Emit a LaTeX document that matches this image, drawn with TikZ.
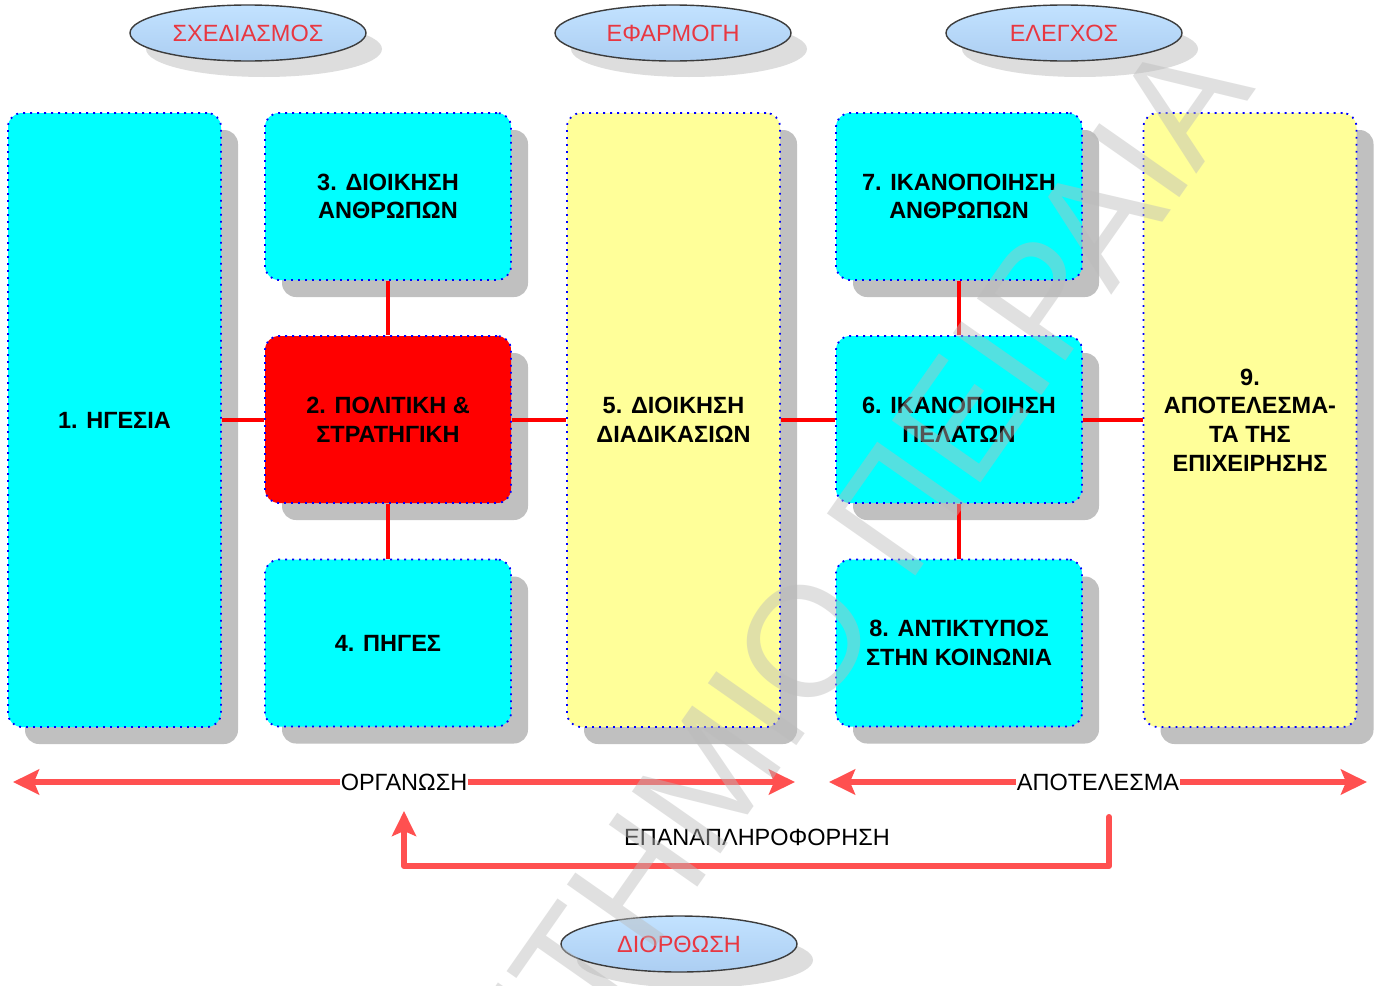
\documentclass[tikz,border=0pt]{standalone}
\usepackage{fontspec}
\setmainfont{Liberation Sans}
\usetikzlibrary{shapes.geometric,arrows.meta,shadows}
\definecolor{boxcyan}{RGB}{0,255,255}
\definecolor{boxyellow}{RGB}{255,255,153}
\definecolor{boxred}{RGB}{255,0,0}
\definecolor{dotblue}{RGB}{0,0,255}
\definecolor{shadowgray}{RGB}{192,192,192}
\definecolor{ovalshadow}{RGB}{221,221,221}
\definecolor{ovaltop}{RGB}{194,226,255}
\definecolor{ovalbottom}{RGB}{172,206,242}
\definecolor{ovalrim}{RGB}{60,60,60}
\definecolor{ovaltext}{RGB}{232,55,65}
\definecolor{linkred}{RGB}{255,0,0}
\definecolor{arrowred}{RGB}{255,80,80}
\definecolor{markgray}{RGB}{187,187,187}

\begin{document}
\begin{tikzpicture}[x=1pt,y=-1pt,
  stage/.style={rounded corners=14pt, draw=dotblue, line width=1.8pt,
    dash pattern=on 1.8pt off 5.2pt, align=center, inner sep=0pt,
    font=\fontsize{23.5}{28.7}\selectfont\bfseries,
    drop shadow={shadow xshift=17pt, shadow yshift=-17pt, fill=shadowgray, opacity=1}},
  tall/.style={stage, minimum width=213pt, minimum height=614pt},
  short/.style={stage, minimum width=246pt, minimum height=167pt},
  oval/.style={ellipse, minimum width=236pt, minimum height=56pt, inner sep=0pt,
    draw=ovalrim, line width=1.4pt, top color=ovaltop, bottom color=ovalbottom,
    text=ovaltext, font=\fontsize{23.5}{28}\selectfont,
    drop shadow={shadow xshift=16pt, shadow yshift=-16pt, fill=ovalshadow, opacity=1}},
  link/.style={draw=linkred, line width=4pt},
  band/.style={draw=arrowred, line width=6pt, -{Stealth[length=26pt,width=25pt,inset=5pt]}},
  bandtext/.style={fill=white, inner sep=1pt, font=\fontsize{23.5}{28}\selectfont},
]
\useasboundingbox (0,0) rectangle (1380,985);
\fill[white] (0,0) rectangle (1380,985);

% stage headings
\node[oval] (plan) at (248,33) {ΣΧΕΔΙΑΣΜΟΣ};
\node[oval] (apply) at (673,33) {ΕΦΑΡΜΟΓΗ};
\node[oval] (check) at (1064,33) {ΕΛΕΓΧΟΣ};
\node[oval] (fix) at (679,944) {ΔΙΟΡΘΩΣΗ};

% model boxes
\node[tall, fill=boxcyan] (b1) at (114.5,420) {1. ΗΓΕΣΙΑ};
\node[short, fill=boxcyan] (b3) at (388,196.5) {3. ΔΙΟΙΚΗΣΗ\\ΑΝΘΡΩΠΩΝ};
\node[short, fill=boxred] (b2) at (388,419.5) {2. ΠΟΛΙΤΙΚΗ \&\\ΣΤΡΑΤΗΓΙΚΗ};
\node[short, fill=boxcyan] (b4) at (388,643) {4. ΠΗΓΕΣ};
\node[tall, fill=boxyellow] (b5) at (673.5,420) {5. ΔΙΟΙΚΗΣΗ\\ΔΙΑΔΙΚΑΣΙΩΝ};
\node[short, fill=boxcyan] (b7) at (959,196.5) {7. ΙΚΑΝΟΠΟΙΗΣΗ\\ΑΝΘΡΩΠΩΝ};
\node[short, fill=boxcyan] (b6) at (959,419.5) {6. ΙΚΑΝΟΠΟΙΗΣΗ\\ΠΕΛΑΤΩΝ};
\node[short, fill=boxcyan] (b8) at (959,643) {8. ΑΝΤΙΚΤΥΠΟΣ\\ΣΤΗΝ ΚΟΙΝΩΝΙΑ};
\node[tall, fill=boxyellow] (b9) at (1250,420) {9.\\ΑΠΟΤΕΛΕΣΜΑ-\\ΤΑ ΤΗΣ\\ΕΠΙΧΕΙΡΗΣΗΣ};

% links between boxes
\draw[link] (b1.east |- b2.west) -- (b2.west);
\draw[link] (b3.south) -- (b2.north);
\draw[link] (b2.south) -- (b4.north);
\draw[link] (b2.east) -- (b5.west |- b2.east);
\draw[link] (b5.east |- b6.west) -- (b6.west);
\draw[link] (b7.south) -- (b6.north);
\draw[link] (b6.south) -- (b8.north);
\draw[link] (b6.east) -- (b9.west |- b6.east);

% organisation / results bands
\node[bandtext] (org) at (404,782) {ΟΡΓΑΝΩΣΗ};
\coordinate (orgL) at (13,782);
\coordinate (orgR) at (795,782);
\draw[band] (org.west) -- (orgL);
\draw[band] (org.east) -- (orgR);

\node[bandtext] (res) at (1098,782) {ΑΠΟΤΕΛΕΣΜΑ};
\coordinate (resL) at (829,782);
\coordinate (resR) at (1367,782);
\draw[band] (res.west) -- (resL);
\draw[band] (res.east) -- (resR);

% feedback loop
\node[font=\fontsize{23.5}{28}\selectfont, inner sep=0pt] (fbl) at (757,837) {ΕΠΑΝΑΠΛΗΡΟΦΟΡΗΣΗ};
\coordinate (fbS) at (1109,817);
\coordinate (fbC) at (404,866);
\coordinate (fbE) at (404,811);
\draw[draw=arrowred, line width=6pt, line join=round, line cap=round,
  -{Stealth[length=25pt,width=24pt,inset=5pt]}] (fbS) |- (fbC) -- (fbE);

% watermark across the sheet
\begin{scope}
\clip (0,0) rectangle (1380,985);
\node[rotate=55, anchor=base, text=markgray, opacity=0.45, inner sep=0pt,
  font=\fontsize{157}{157}\selectfont] (mark) at (727,845) {ΠΑΝΕΠΙΣΤΗΜΙΟ ΠΕΙΡΑΙΑ};
\end{scope}
\end{tikzpicture}
\end{document}
